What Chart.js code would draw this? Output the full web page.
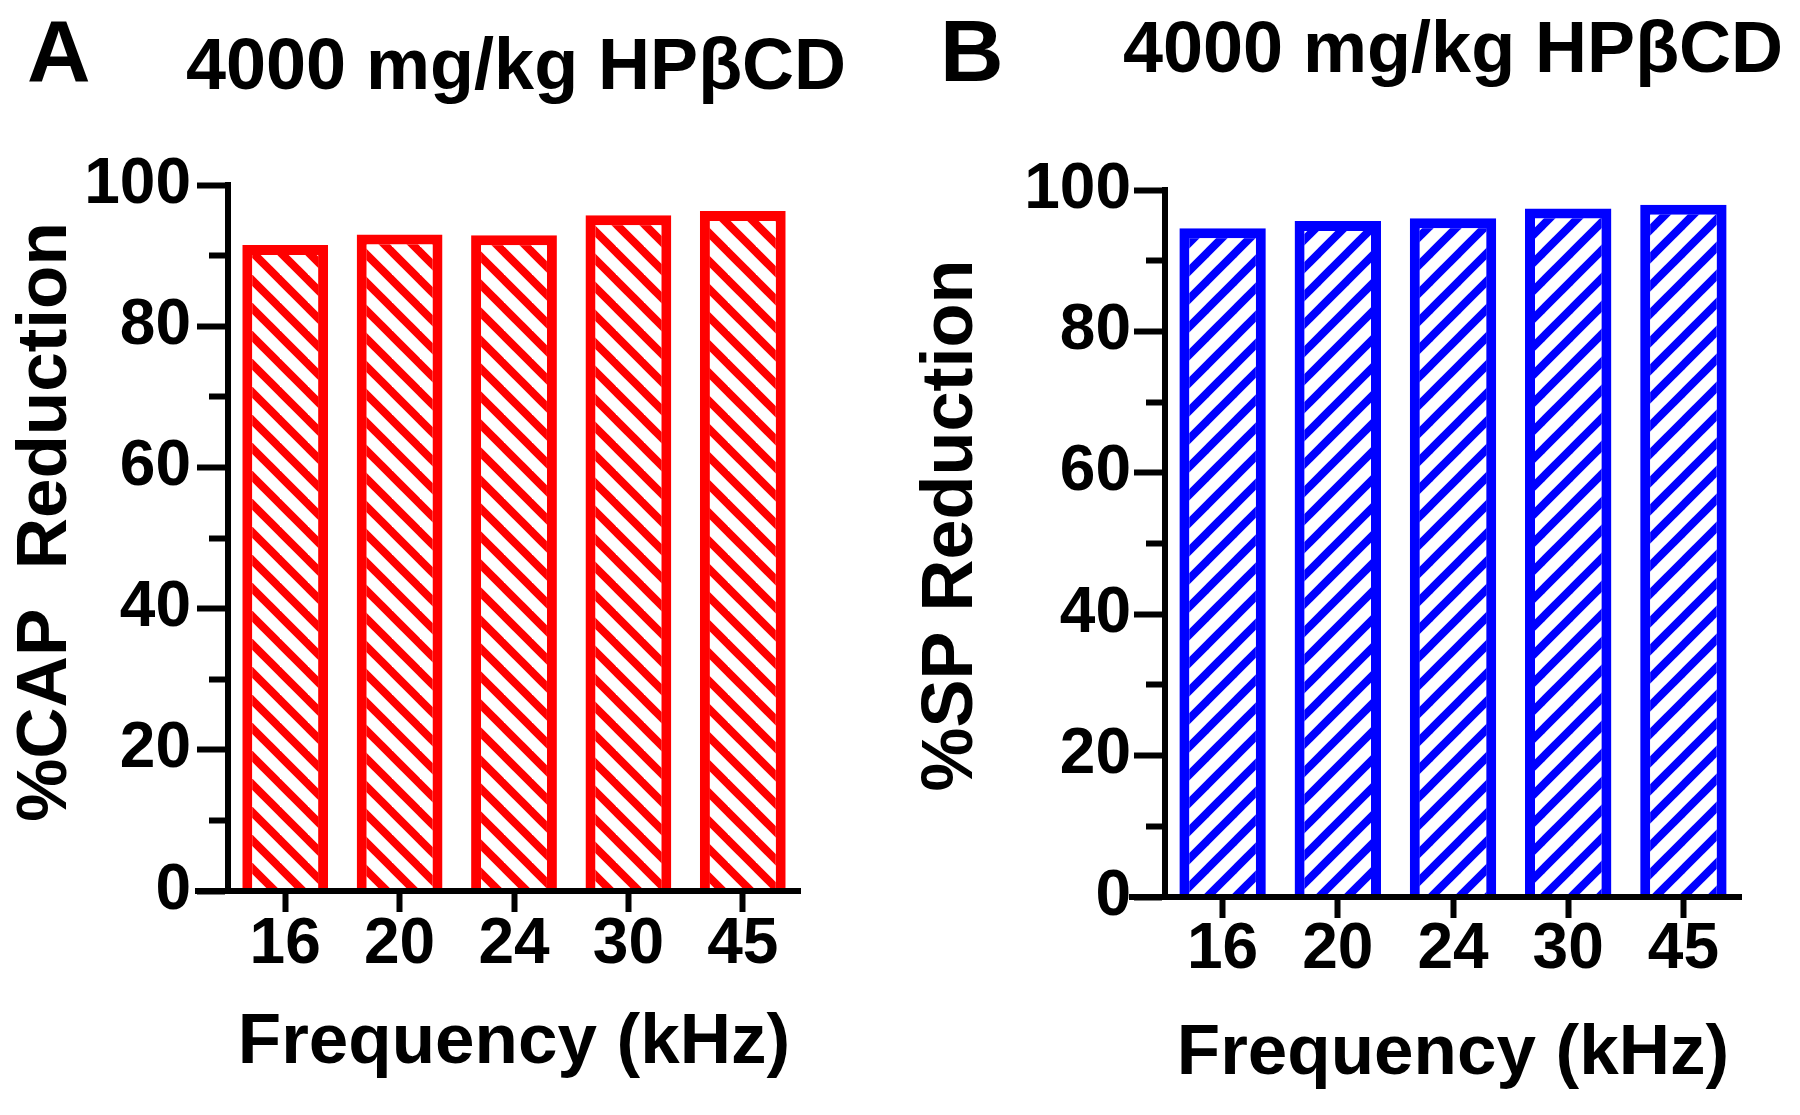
<!DOCTYPE html>
<html>
<head>
<meta charset="utf-8">
<script src="https://cdn.jsdelivr.net/npm/chart.js@4.4.1/dist/chart.umd.min.js"></script>
<style>
  body { margin: 0; background: #fff; }
  #fig { position: relative; width: 1800px; height: 1115px; overflow: hidden;
         font-family: "Liberation Sans", Arial, sans-serif; font-weight: bold; color: #000; }
  .panel { position: absolute; top: 0; width: 900px; height: 1115px; }
  .txt { position: absolute; line-height: 1; white-space: nowrap; }
</style>
</head>
<body>
<div id="fig">
  <div class="panel" style="left:0"><canvas id="chartA" width="900" height="1115"></canvas></div>
  <div class="panel" style="left:900px"><canvas id="chartB" width="900" height="1115"></canvas></div>
  <div class="txt" style="left:27px;top:7px;font-size:88px">A</div>
  <div class="txt" style="left:940px;top:7px;font-size:88px">B</div>
  <div class="txt" style="left:116px;width:800px;top:28px;font-size:72px;text-align:center">4000 mg/kg HPβCD</div>
  <div class="txt" style="left:1053px;width:800px;top:11px;font-size:72px;text-align:center">4000 mg/kg HPβCD</div>
</div>
<script>
// data
const freqLabels = ['16', '20', '24', '30', '45'];
const capReduction = [91.5, 93.0, 92.9, 95.7, 96.3];
const spReduction = [94.6, 95.6, 96.0, 97.4, 97.9];
const yMajorTicks = [0, 20, 40, 60, 80, 100];

const FONT = '"Liberation Sans", Arial, sans-serif';

// diagonal hatch fill used inside the bars
function hatchPattern(colour, dir) {
  const w = 28, h = 28;
  const c = document.createElement('canvas');
  c.width = w; c.height = h;
  const g = c.getContext('2d');
  g.fillStyle = '#fff';
  g.fillRect(0, 0, w, h);
  g.strokeStyle = colour;
  g.lineWidth = 8;
  for (let k = -1; k <= 1; k++) {
    g.beginPath();
    if (dir === 'down') {
      g.moveTo(k * w - w / 2, -h / 2); g.lineTo(k * w + 1.5 * w, 1.5 * h);
    } else {
      g.moveTo(k * w - w / 2, 1.5 * h); g.lineTo(k * w + 1.5 * w, -h / 2);
    }
    g.stroke();
  }
  return g.createPattern(c, 'repeat');
}

// x axis line runs a bit past the y axis on the left (prism style)
const xAxisStub = {
  id: 'xAxisStub',
  afterDraw(chart, args, opts) {
    const { ctx, chartArea } = chart;
    const y = Math.round(chart.scales.x.top);
    ctx.save();
    ctx.strokeStyle = '#000';
    ctx.lineWidth = 6;
    ctx.beginPath();
    ctx.moveTo(chartArea.left - opts.len, y);
    ctx.lineTo(chartArea.left, y);
    ctx.stroke();
    ctx.restore();
  }
};

// rotated y title, sits a little above the axis middle in the original
const yTitle = {
  id: 'yTitle',
  afterDraw(chart, args, o) {
    const { ctx, chartArea } = chart;
    ctx.save();
    ctx.font = `bold ${o.size}px ${FONT}`;
    ctx.fillStyle = '#000';
    ctx.textAlign = 'center';
    ctx.textBaseline = 'middle';
    ctx.translate(o.x, (chartArea.top + chartArea.bottom) / 2 - o.shift);
    ctx.rotate(-Math.PI / 2);
    ctx.fillText(o.text, 0, 0);
    ctx.restore();
  }
};

function buildChart(id, values, colour, dir, p) {
  const isMinor = ctx => ctx.tick && ctx.tick.value % 20 !== 0;
  return new Chart(document.getElementById(id), {
    type: 'bar',
    data: {
      labels: freqLabels,
      datasets: [{
        data: values,
        backgroundColor: hatchPattern(colour, dir),
        borderColor: colour,
        borderWidth: 10,
        borderSkipped: 'start',
        barPercentage: 0.75,
        categoryPercentage: 1
      }]
    },
    options: {
      responsive: false,
      animation: false,
      events: [],
      layout: { padding: { left: 0, top: p.top, right: p.right, bottom: 0 } },
      plugins: {
        legend: { display: false },
        tooltip: { enabled: false },
        xAxisStub: { len: p.stub },
        yTitle: { text: p.yTitle, size: p.yTitleSize, x: p.yTitleX, shift: p.yTitleShift }
      },
      scales: {
        x: {
          grid: { drawOnChartArea: false, offset: false, tickLength: 21, tickWidth: 6, tickColor: '#000' },
          border: { display: true, color: '#000', width: 6, z: 1 },
          ticks: {
            color: '#000', padding: p.xPad, maxRotation: 0, autoSkip: false,
            font: { family: FONT, size: 64, weight: 'bold', lineHeight: 1 }
          },
          title: {
            display: true, text: 'Frequency (kHz)', color: '#000',
            font: { family: FONT, size: 71, weight: 'bold', lineHeight: 1 },
            padding: { top: 0, bottom: p.xTitlePad }
          },
          afterFit: s => { s.height = p.xHeight; }
        },
        y: {
          min: 0, max: 100,
          grid: {
            drawOnChartArea: false, tickLength: 31, tickWidth: 6, tickColor: '#000',
            tickBorderDash: ctx => isMinor(ctx) ? [19, 200] : [],
            tickBorderDashOffset: ctx => isMinor(ctx) ? 207 : 0
          },
          border: { display: true, color: '#000', width: 6 },
          ticks: {
            stepSize: 10, color: '#000', padding: p.yPad,
            font: { family: FONT, size: 64, weight: 'bold', lineHeight: 1 },
            callback: v => yMajorTicks.includes(v) ? String(v) : ''
          },
          afterFit: s => { s.width = p.yWidth; }
        }
      }
    },
    plugins: [xAxisStub, yTitle]
  });
}

buildChart('chartA', capReduction, '#ff0000', 'down', {
  top: 185, right: 100, yWidth: 228, xHeight: 224, yPad: 6, xPad: 1, xTitlePad: 36, stub: 33,
  yTitle: '%CAP  Reduction', yTitleSize: 71, yTitleX: 46, yTitleShift: 16
});
buildChart('chartB', spReduction, '#0000ff', 'up', {
  top: 190, right: 59, yWidth: 265, xHeight: 218, yPad: 3, xPad: 0, xTitlePad: 25.5, stub: 36,
  yTitle: '%SP Reduction', yTitleSize: 72, yTitleX: 52, yTitleShift: 18
});
</script>
</body>
</html>
